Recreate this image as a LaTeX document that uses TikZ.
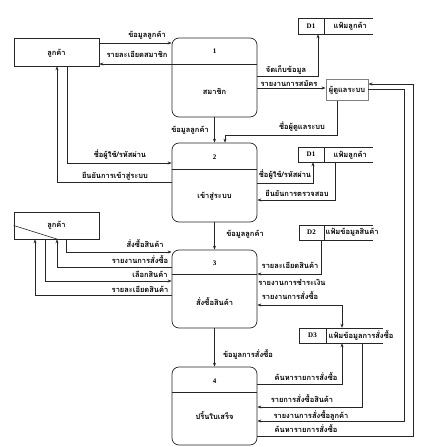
\documentclass[tikz,border=0pt]{standalone}
\usepackage{fontspec}
\setmainfont{Liberation Serif}
\newfontfamily\thai[Script=Thai]{Loma}
\usetikzlibrary{arrows.meta}
\tikzset{proc/.style = {draw, rounded corners=7pt, minimum width=85pt, line width=0.7pt}}
\tikzset{ent/.style = {draw, minimum width=85pt, line width=0.6pt}}
\tikzset{store/.style = {draw, minimum height=15pt, inner sep=0pt, font=\fontsize{7}{8}\selectfont\bfseries}}
\tikzset{flow/.style = {-{Stealth[length=4pt,width=3pt]}, line width=0.6pt}}
\tikzset{lbl/.style = {font=\thai\bfseries\fontsize{7.5}{8}\selectfont, inner sep=0.5pt}}

\begin{document}
\begin{tikzpicture}[x=1pt, y=-1pt, draw=black!85]
      \useasboundingbox (0,0) rectangle (424,447);

      % entities
      \node[ent, minimum height=28pt] (cust1) at (56.5,52) {};
      \node[lbl] (cust1t) at (56.5,53) {ลูกค้า};
      \node[ent, minimum height=27pt] (cust2) at (56.5,225.5) {};
      \node[lbl] (cust2t) at (56.5,225) {ลูกค้า};
      \draw[line width=0.6pt] (cust2.west) -- ([xshift=44pt]cust2.south west);
      \node[draw=gray, line width=0.9pt, minimum width=42pt, minimum height=21pt, lbl] (admin) at (347,90) {ผู้ดูแลระบบ};

      % processes
      \node[proc, minimum height=79pt] (p1) at (214.5,77.5) {};
      \draw[line width=0.6pt] (p1.west |- 0,64) -- (p1.east |- 0,64);
      \node[store, draw=none] (p1n) at (214.5,51.5) {1};
      \node[lbl] (p1t) at (214.5,91) {สมาชิก};

      \node[proc, minimum height=79pt] (p2) at (214.5,182.5) {};
      \draw[line width=0.6pt] (p2.west |- 0,169) -- (p2.east |- 0,169);
      \node[store, draw=none] (p2n) at (214.5,157) {2};
      \node[lbl] (p2t) at (214.5,196) {เข้าสู่ระบบ};

      \node[proc, minimum height=78pt] (p3) at (214.5,289) {};
      \draw[line width=0.6pt] (p3.west |- 0,274) -- (p3.east |- 0,274);
      \node[store, draw=none] (p3n) at (214.5,263) {3};
      \node[lbl] (p3t) at (214.5,302) {สั่งซื้อสินค้า};

      \node[proc, minimum height=78pt] (p4) at (214.5,406) {};
      \draw[line width=0.6pt] (p4.west |- 0,392) -- (p4.east |- 0,392);
      \node[store, draw=none] (p4n) at (214.5,381) {4};
      \node[lbl] (p4t) at (214.5,416) {ปริ้นใบเสร็จ};

      % data stores
      \node[store, minimum width=26pt, minimum height=16pt] (d1a) at (311,26) {D1};
      \node[lbl, anchor=west] (d1at) at (333,26) {แฟ้มลูกค้า};
      \draw[line width=0.6pt] (d1a.north east) -- ++(49,0) (d1a.south east) -- ++(49,0);
      \node[store, minimum width=26pt] (d1b) at (311,154.5) {D1};
      \node[lbl, anchor=west] (d1bt) at (333,155) {แฟ้มลูกค้า};
      \draw[line width=0.6pt] (d1b.north east) -- ++(49,0) (d1b.south east) -- ++(49,0);
      \node[store, minimum width=25pt] (d2) at (311.5,232.5) {D2};
      \node[lbl, anchor=west] (d2t) at (325,232) {แฟ้มข้อมูลสินค้า};
      \draw[line width=0.6pt] (d2.north east) -- ++(49,0) (d2.south east) -- ++(49,0);
      \node[store, minimum width=27pt] (d3) at (312.5,335.5) {D3};
      \node[lbl, anchor=west] (d3t) at (328,335) {แฟ้มข้อมูลการสั่งซื้อ};
      \draw[line width=0.6pt] (d3.north east) -- ++(57,0) (d3.south east) -- ++(57,0);

      % flows of process 1
      \draw[flow] (cust1.east |- 0,43) -- (p1.west |- 0,43);
      \node[lbl] (f1) at (147,35) {ข้อมูลลูกค้า};
      \draw[flow] (p1.west |- 0,64) -- (cust1.east |- 0,64);
      \node[lbl] (f2) at (137,54) {รายละเอียดสมาชิก};
      \draw[flow] (p1.south) -- (p2.north);
      \node[lbl] (f3) at (190,130) {ข้อมูลลูกค้า};
      \draw[flow] (p1.east |- 0,76) -| (d1a.south -| 318,0);
      \node[lbl] (f4) at (286,70) {จัดเก็บข้อมูล};
      \draw[flow] (p1.east |- 0,88) -- (admin.west |- 0,88);
      \node[lbl] (f5) at (289,83) {รายงานการสมัคร};
      \draw[flow] (admin.south -| 337,0) -- (337,135) -| (p2.north -| 225,0);
      \node[lbl] (f6) at (302,127) {ชื่อผู้ดูแลระบบ};

      % flows of process 2
      \draw[flow] (cust1.south -| 67,0) |- (p2.west |- 0,163);
      \node[lbl] (f7) at (120,155) {ชื่อผู้ใช้/รหัสผ่าน};
      \draw[flow] (p2.west |- 0,182) -| (cust1.south -| 57,0);
      \node[lbl] (f8) at (115,176) {ยืนยันการเข้าสู่ระบบ};
      \draw[flow] (p2.east |- 0,183) -| (d1b.south -| 313,0);
      \node[lbl] (f9) at (285,175) {ชื่อผู้ใช้/รหัสผ่าน};
      \draw[flow] (d1b.south -| 335,0) |- (p2.east |- 0,200);
      \node[lbl] (f10) at (297,193) {ยืนยันการตรวจสอบ};
      \draw[flow] (p2.south) -- (p3.north);
      \node[lbl] (f11) at (245,234) {ข้อมูลลูกค้า};

      % flows of process 3
      \draw[flow] (cust2.south -| 66,0) |- (p3.west |- 0,252);
      \node[lbl] (f12) at (145,244) {สั่งซื้อสินค้า};
      \draw[flow] (p3.west |- 0,267) -| (cust2.south -| 57,0);
      \node[lbl] (f13) at (140,260) {รายงานการสั่งซื้อ};
      \draw[flow] (cust2.south -| 45,0) |- (p3.west |- 0,281);
      \node[lbl] (f14) at (150,274) {เลือกสินค้า};
      \draw[flow] (p3.west |- 0,295) -| (cust2.south -| 35,0);
      \node[lbl] (f15) at (140,289) {รายละเอียดสินค้า};
      \draw[flow] (d2.south -| 321,0) |- (p3.east |- 0,274);
      \node[lbl] (f16) at (290,265) {รายละเอียดสินค้า};
      \node[lbl] (f17) at (292,282) {รายงานการชำระเงิน};
      \draw[flow, {Stealth[length=4pt,width=3pt]}-{Stealth[length=4pt,width=3pt]}] (p3.east |- 0,305) -| (d3.north -| 342,0);
      \node[lbl] (f18) at (290,296) {รายงานการสั่งซื้อ};
      \draw[flow] (p3.south) -- (p4.north);
      \node[lbl] (f19) at (248,354) {ข้อมูลการสั่งซื้อ};

      % flows of process 4
      \draw[flow] (p4.east |- 0,384) -| (d3.south -| 342,0);
      \node[lbl] (f20) at (306,377) {ค้นหารายการสั่งซื้อ};
      \draw[flow] (d3.south -| 362,0) |- (p4.east |- 0,407);
      \node[lbl] (f21) at (302,399) {รายการสั่งซื้อสินค้า};
      \draw[flow] (admin.east |- 0,89) -| (404,421) -- (p4.east |- 0,421);
      \node[lbl] (f22) at (311,415) {รายงานการสั่งซื้อลูกค้า};
      \draw[flow] (p4.east |- 0,436) -| (413,84) -- (admin.east |- 0,84);
      \node[lbl] (f23) at (306,429) {ค้นหารายการสั่งซื้อ};
    \end{tikzpicture}
\end{document}
